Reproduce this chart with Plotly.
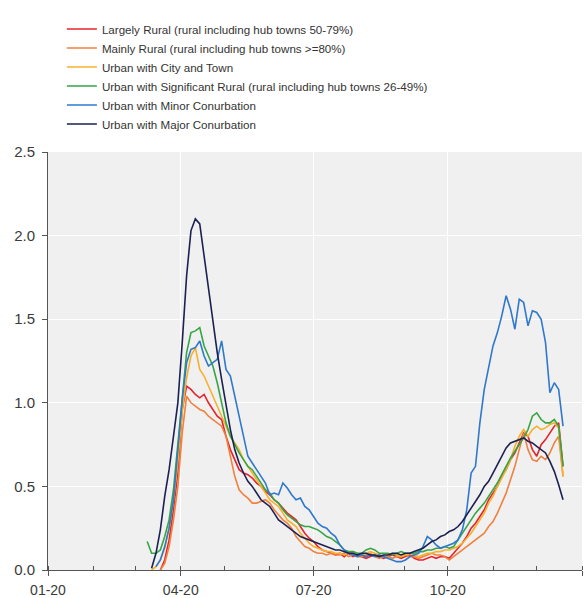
import pandas as pd
import plotly.graph_objects as go

# Sample dates: every third day from 9 March to 19 December 2020
start_date = "2020-03-09"
step_days = 3
n_points = 96
dates = pd.date_range(start_date, periods=n_points, freq=f"{step_days}D")

series_names = [
    "Largely Rural (rural including hub towns 50-79%)",
    "Mainly Rural (rural including hub towns >=80%)",
    "Urban with City and Town",
    "Urban with Significant Rural (rural including hub towns 26-49%)",
    "Urban with Minor Conurbation",
    "Urban with Major Conurbation",
]
series_colors = ["#e5242c", "#f0813f", "#f7b02c", "#36a544", "#2f78cc", "#1c2152"]

largely_rural = [
    None, None, None, 0.00, 0.06, 0.18, 0.36, 0.58, 0.96, 1.10, 1.08, 1.05,
    1.03, 1.05, 1.00, 0.96, 0.92, 0.90, 0.80, 0.72, 0.66, 0.60, 0.58, 0.57,
    0.55, 0.52, 0.50, 0.47, 0.45, 0.42, 0.40, 0.37, 0.34, 0.32, 0.30, 0.26,
    0.22, 0.19, 0.17, 0.14, 0.12, 0.11, 0.10, 0.09, 0.10, 0.08, 0.10, 0.08,
    0.09, 0.08, 0.07, 0.08, 0.09, 0.08, 0.07, 0.08, 0.09, 0.08, 0.07, 0.08,
    0.09, 0.07, 0.06, 0.06, 0.07, 0.08, 0.07, 0.08, 0.08, 0.07, 0.10, 0.13,
    0.16, 0.20, 0.25, 0.28, 0.32, 0.36, 0.42, 0.46, 0.50, 0.56, 0.60, 0.66,
    0.70, 0.76, 0.82, 0.80, 0.72, 0.68, 0.75, 0.78, 0.82, 0.86, 0.88, 0.62,
]
mainly_rural = [
    None, None, None, 0.00, 0.04, 0.14, 0.30, 0.50, 0.82, 1.04, 1.00, 0.98,
    0.96, 0.95, 0.92, 0.90, 0.88, 0.86, 0.80, 0.68, 0.56, 0.48, 0.45, 0.43,
    0.40, 0.40, 0.41, 0.42, 0.40, 0.36, 0.33, 0.30, 0.28, 0.25, 0.20, 0.17,
    0.14, 0.13, 0.11, 0.10, 0.10, 0.09, 0.10, 0.09, 0.09, 0.10, 0.08, 0.09,
    0.08, 0.08, 0.09, 0.10, 0.08, 0.07, 0.08, 0.08, 0.07, 0.08, 0.08, 0.09,
    0.08, 0.08, 0.07, 0.08, 0.09, 0.10, 0.09, 0.09, 0.08, 0.06, 0.08, 0.10,
    0.12, 0.14, 0.16, 0.18, 0.20, 0.22, 0.26, 0.29, 0.34, 0.40, 0.46, 0.54,
    0.62, 0.72, 0.82, 0.72, 0.66, 0.65, 0.68, 0.66, 0.70, 0.76, 0.80, 0.56,
]
city_and_town = [
    None, 0.00, 0.02, 0.06, 0.13, 0.25, 0.42, 0.65, 0.95, 1.15, 1.28, 1.33,
    1.20, 1.16, 1.10, 1.05, 0.98, 0.92, 0.86, 0.80, 0.76, 0.72, 0.66, 0.62,
    0.58, 0.54, 0.50, 0.46, 0.42, 0.40, 0.38, 0.34, 0.30, 0.28, 0.26, 0.22,
    0.19, 0.16, 0.14, 0.13, 0.12, 0.11, 0.11, 0.10, 0.10, 0.09, 0.10, 0.11,
    0.10, 0.09, 0.10, 0.11, 0.10, 0.09, 0.08, 0.09, 0.10, 0.09, 0.08, 0.09,
    0.10, 0.09, 0.08, 0.09, 0.10, 0.10, 0.11, 0.11, 0.12, 0.12, 0.13, 0.14,
    0.16, 0.19, 0.22, 0.26, 0.30, 0.34, 0.40, 0.44, 0.50, 0.55, 0.60, 0.66,
    0.74, 0.80, 0.84, 0.80, 0.84, 0.86, 0.84, 0.85, 0.87, 0.88, 0.85, 0.56,
]
significant_rural = [
    0.17, 0.10, 0.10, 0.12, 0.20, 0.30, 0.48, 0.75, 1.05, 1.30, 1.42, 1.43,
    1.45, 1.34, 1.28, 1.22, 1.12, 1.00, 0.88, 0.80, 0.75, 0.70, 0.66, 0.62,
    0.60, 0.56, 0.52, 0.48, 0.46, 0.42, 0.40, 0.36, 0.33, 0.31, 0.29, 0.27,
    0.26, 0.26, 0.25, 0.24, 0.22, 0.20, 0.19, 0.17, 0.15, 0.12, 0.11, 0.11,
    0.10, 0.10, 0.12, 0.13, 0.12, 0.10, 0.10, 0.10, 0.09, 0.10, 0.11, 0.10,
    0.10, 0.10, 0.11, 0.11, 0.12, 0.12, 0.13, 0.13, 0.14, 0.13, 0.14, 0.18,
    0.22, 0.26, 0.30, 0.34, 0.37, 0.40, 0.44, 0.48, 0.52, 0.57, 0.62, 0.67,
    0.71, 0.75, 0.79, 0.84, 0.92, 0.94, 0.90, 0.88, 0.88, 0.90, 0.86, 0.62,
]
minor_conurbation = [
    None, None, 0.02, 0.06, 0.14, 0.25, 0.42, 0.70, 1.02, 1.24, 1.32, 1.33,
    1.37, 1.28, 1.22, 1.24, 1.26, 1.37, 1.20, 1.16, 1.04, 0.92, 0.82, 0.68,
    0.64, 0.60, 0.56, 0.52, 0.45, 0.46, 0.45, 0.52, 0.49, 0.45, 0.42, 0.43,
    0.38, 0.36, 0.32, 0.28, 0.26, 0.25, 0.22, 0.20, 0.15, 0.12, 0.10, 0.09,
    0.08, 0.09, 0.08, 0.09, 0.08, 0.09, 0.08, 0.07, 0.06, 0.05, 0.05, 0.06,
    0.08, 0.09, 0.10, 0.14, 0.20, 0.18, 0.15, 0.13, 0.14, 0.15, 0.16, 0.18,
    0.24, 0.36, 0.58, 0.62, 0.88, 1.08, 1.22, 1.34, 1.42, 1.52, 1.64, 1.56,
    1.44, 1.62, 1.60, 1.46, 1.55, 1.54, 1.50, 1.36, 1.06, 1.12, 1.08, 0.86,
]
major_conurbation = [
    None, 0.01, 0.10, 0.24, 0.44, 0.60, 0.80, 1.00, 1.36, 1.76, 2.03, 2.10,
    2.07, 1.88, 1.66, 1.47, 1.30, 1.14, 0.98, 0.84, 0.72, 0.64, 0.58, 0.53,
    0.50, 0.46, 0.42, 0.40, 0.38, 0.34, 0.30, 0.28, 0.26, 0.24, 0.22, 0.20,
    0.19, 0.18, 0.17, 0.16, 0.15, 0.14, 0.13, 0.12, 0.12, 0.11, 0.10, 0.10,
    0.09, 0.10, 0.10, 0.09, 0.09, 0.08, 0.09, 0.09, 0.10, 0.10, 0.09, 0.10,
    0.10, 0.11, 0.12, 0.13, 0.15, 0.17, 0.18, 0.20, 0.21, 0.23, 0.24, 0.26,
    0.29, 0.33, 0.37, 0.41, 0.45, 0.50, 0.53, 0.58, 0.63, 0.68, 0.73, 0.76,
    0.77, 0.78, 0.79, 0.77, 0.76, 0.74, 0.72, 0.70, 0.65, 0.59, 0.51, 0.42,
]
all_series = [largely_rural, mainly_rural, city_and_town,
              significant_rural, minor_conurbation, major_conurbation]

# Axis ticks
x_tick_dates = ["2020-01-01", "2020-04-01", "2020-07-01", "2020-10-01", "2021-01-01"]
x_tick_labels = ["01-20", "04-20", "07-20", "10-20", ""]
y_tick_values = [0.0, 0.5, 1.0, 1.5, 2.0, 2.5]

fig = go.Figure()
for name, color, values in zip(series_names, series_colors, all_series):
    fig.add_trace(go.Scatter(
        x=dates, y=values, name=name, mode="lines",
        line=dict(color=color, width=1.6),
    ))

tick_font_family = "Liberation Sans, Arial, sans-serif"

fig.update_layout(
    width=587, height=598,
    margin=dict(l=48, r=5, t=152, b=28),
    paper_bgcolor="white",
    plot_bgcolor="#f0f0f0",
    showlegend=True,
    legend=dict(
        x=0.026, y=1.329, xanchor="left", yanchor="top",
        font=dict(family=tick_font_family, size=11.6, color="#333333"),
        bgcolor="rgba(0,0,0,0)", itemwidth=30, tracegroupgap=0,
    ),
    xaxis=dict(
        type="date",
        range=["2020-01-01", "2021-01-01"],
        tickmode="array", tickvals=x_tick_dates, ticktext=x_tick_labels,
        ticks="outside", ticklen=5, tickcolor="#555555",
        ticklabelstandoff=2, automargin=False,
        showgrid=True, gridcolor="white", gridwidth=1.2,
        showline=True, linecolor="#555555", linewidth=1,
        tickfont=dict(family=tick_font_family, size=14, color="#3a3a3a"),
        zeroline=False,
        minor=dict(dtick="M1", tick0="2020-01-01", ticks="inside",
                   ticklen=4, tickcolor="#555555", showgrid=False),
    ),
    yaxis=dict(
        range=[0, 2.5],
        tickmode="array", tickvals=y_tick_values, tickformat=".1f",
        ticks="outside", ticklen=5, tickcolor="#555555",
        ticklabelstandoff=4, automargin=False,
        showgrid=True, gridcolor="white", gridwidth=1.2,
        showline=True, linecolor="#555555", linewidth=1,
        tickfont=dict(family=tick_font_family, size=15, color="#3a3a3a"),
        zeroline=False,
    ),
)

fig.write_html("out.html")
